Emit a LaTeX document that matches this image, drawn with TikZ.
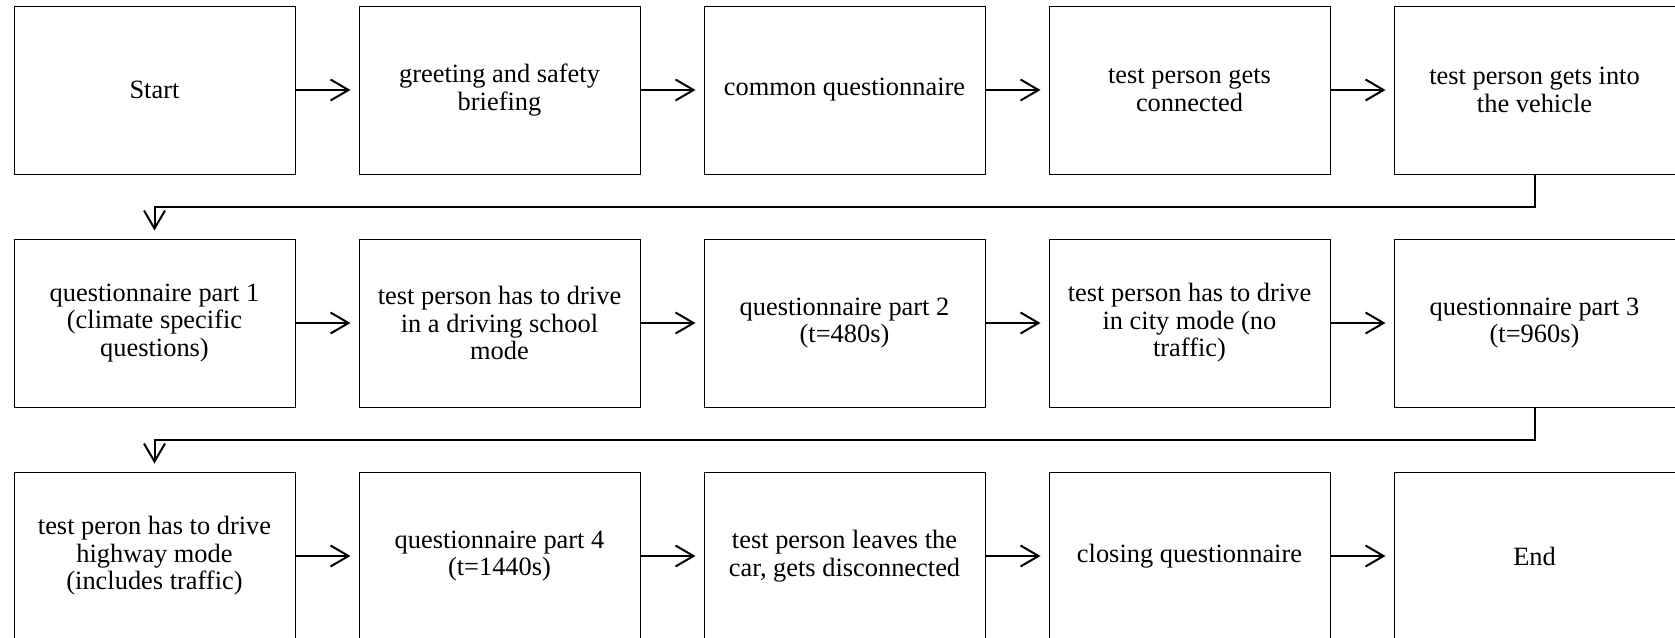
\documentclass[tikz,border=0pt]{standalone}
\usepackage{fontspec}
\setmainfont{Liberation Serif}
\usetikzlibrary{arrows.meta}
\begin{document}
\begin{tikzpicture}[x=1pt,y=-1pt,
  box/.style={draw, line width=1pt, minimum width=281pt, minimum height=168pt,
    inner sep=0pt, align=center, anchor=north west,
    font=\fontsize{26.4}{27.5}\selectfont},
  conn/.style={line width=2pt, -{Straight Barb[length=18pt,width=21pt,line width=2pt]},
    shorten >=8pt}]
\useasboundingbox (0,0) rectangle (1675,637);
% row 1
\node[box] (n1) at (13.5,5.5) {Start};
\node[box] (n2) at (358.5,5.5) {greeting and safety\\briefing};
\node[box] (n3) at (703.5,5.5) {common questionnaire};
\node[box] (n4) at (1048.5,5.5) {test person gets\\connected};
\node[box] (n5) at (1393.5,5.5) {test person gets into\\the vehicle};
% row 2
\node[box] (n6) at (13.5,238.5) {questionnaire part 1\\(climate specific\\questions)};
\node[box] (n7) at (358.5,238.5) {test person has to drive\\in a driving school\\mode};
\node[box] (n8) at (703.5,238.5) {questionnaire part 2\\(t=480s)};
\node[box] (n9) at (1048.5,238.5) {test person has to drive\\in city mode (no\\traffic)};
\node[box] (n10) at (1393.5,238.5) {questionnaire part 3\\(t=960s)};
% row 3
\node[box] (n11) at (13.5,471.5) {test peron has to drive\\highway mode\\(includes traffic)};
\node[box] (n12) at (358.5,471.5) {questionnaire part 4\\(t=1440s)};
\node[box] (n13) at (703.5,471.5) {test person leaves the\\car, gets disconnected};
\node[box] (n14) at (1048.5,471.5) {closing questionnaire};
\node[box] (n15) at (1393.5,471.5) {End};
% connectors
\foreach \a/\b in {n1/n2,n2/n3,n3/n4,n4/n5,n6/n7,n7/n8,n8/n9,n9/n10,n11/n12,n12/n13,n13/n14,n14/n15}
  \draw[conn] (\a.east) -- (\b.west);
\draw[conn] (n5.south) -- ++(0,32.5) -| (n6.north);
\draw[conn] (n10.south) -- ++(0,32.5) -| (n11.north);
\end{tikzpicture}
\end{document}
